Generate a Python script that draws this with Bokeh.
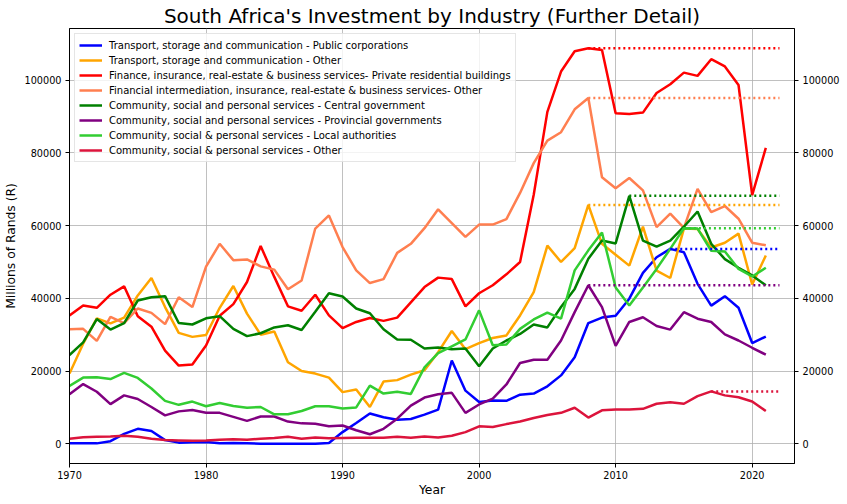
from bokeh.plotting import figure
from bokeh.models import (LinearAxis, Range1d, FixedTicker, Legend, LegendItem,
                          BasicTickFormatter)
from bokeh.embed import file_html
from bokeh.resources import INLINE

years = list(range(1970, 2022))

labels = [
    "Transport, storage and communication - Public corporations",
    "Transport, storage and communication - Other",
    "Finance, insurance, real-estate & business services- Private residential buildings",
    "Financial intermediation, insurance, real-estate & business services- Other",
    "Community, social and personal services - Central government",
    "Community, social and personal services - Provincial governments",
    "Community, social & personal services - Local authorities",
    "Community, social & personal services - Other",
]
colors = ["blue", "orange", "red", "coral", "green", "purple", "limegreen", "crimson"]

transport_public = [
    100, 100, 100, 700, 2700, 4100, 3500, 1000, 300, 400,
    500, 100, 200, 100, 0, 0, 0, 0, 0, 200,
    3200, 5700, 8300, 7300, 6600, 6800, 8000, 9400, 22900, 14600,
    11500, 11900, 11800, 13500, 13800, 15800, 18800, 23800, 33200, 34700,
    35200, 39900, 47000, 51300, 53600, 52700, 44000, 38000, 40600, 37400,
    27700, 29500]
transport_other = [
    19300, 27500, 34500, 33100, 34700, 40800, 45600, 37600, 30500, 29400,
    29900, 37400, 43400, 35800, 30000, 30900, 22400, 20000, 19300, 18200,
    14200, 14900, 10100, 17100, 17500, 19000, 20200, 25200, 31000, 26000,
    27700, 29100, 29800, 35300, 41700, 54500, 50000, 53800, 65700, 55000,
    52000, 49000, 59700, 47600, 45600, 59200, 59100, 54000, 55300, 57800,
    43800, 51800]
finance_private_res = [
    35300, 38000, 37400, 41000, 43300, 35100, 32200, 25600, 21500, 21800,
    27000, 35200, 38400, 44500, 54400, 45900, 37800, 36600, 41000, 35300,
    31800, 33500, 34600, 33800, 34700, 38900, 43100, 45700, 45300, 37800,
    41400, 43600, 46600, 50000, 68500, 91300, 102400, 108000, 108800, 108300,
    90900, 90700, 91100, 96500, 98900, 102100, 101200, 105800, 103800, 98700,
    68400, 81400]
finance_other = [
    31500, 31600, 28300, 34900, 33200, 37200, 36000, 32900, 40300, 37600,
    48700, 55000, 50500, 50700, 48800, 47900, 42500, 44900, 59200, 62800,
    54100, 47700, 44200, 45300, 52500, 55000, 59300, 64500, 60700, 56900,
    60300, 60300, 61800, 69000, 77200, 83400, 85700, 92000, 95100, 73300,
    70300, 73100, 69700, 59600, 63300, 59400, 70100, 63700, 65400, 61900,
    55300, 54600]
central_gov = [
    24400, 27900, 34300, 31400, 33200, 39400, 40300, 40600, 33200, 32800,
    34500, 35100, 31600, 29600, 30400, 32000, 32600, 31300, 36300, 41400,
    40500, 37200, 35900, 31500, 28700, 28600, 26200, 26500, 26000, 26200,
    21300, 26200, 28400, 30200, 32800, 32000, 37600, 42600, 50900, 55900,
    55100, 68200, 55900, 54200, 55900, 59700, 63900, 55000, 50800, 48400,
    46300, 43600]
provincial_gov = [
    13600, 16400, 14300, 10900, 13300, 12300, 10100, 7800, 8900, 9300,
    8500, 8500, 7400, 6300, 7500, 7500, 6100, 5600, 5500, 4800,
    5000, 3700, 2600, 4100, 6900, 10500, 12700, 13600, 14000, 8500,
    10800, 12400, 16300, 22200, 23100, 23100, 28400, 36200, 43600, 37600,
    26900, 33500, 34800, 32400, 31400, 36200, 34400, 33500, 30100, 28400,
    26400, 24500]
local_auth = [
    15900, 18200, 18300, 17800, 19500, 18100, 15200, 11800, 10700, 11600,
    10300, 11200, 10400, 9900, 10100, 8100, 8100, 9000, 10300, 10300,
    9700, 10000, 16000, 13800, 14300, 13700, 21000, 24900, 26800, 28700,
    36700, 27100, 27300, 31600, 34200, 36100, 34400, 47700, 53200, 58100,
    43000, 38000, 43000, 48100, 53600, 59300, 59200, 53100, 52900, 48100,
    46000, 48400]
community_other = [
    1400, 1750, 1900, 2000, 2200, 1900, 1400, 1000, 900, 800,
    900, 1100, 1200, 1100, 1400, 1600, 1900, 1400, 1700, 1500,
    1600, 1650, 1650, 1650, 1900, 1650, 2000, 1700, 2200, 3200,
    4800, 4600, 5400, 6100, 7100, 7900, 8500, 9900, 7200, 9200,
    9400, 9400, 9600, 11000, 11400, 11000, 13100, 14400, 13300, 12800,
    11600, 9000]

series = [transport_public, transport_other, finance_private_res, finance_other,
          central_gov, provincial_gov, local_auth, community_other]
peak_line_end = 2022
x_ticks = [1970, 1980, 1990, 2000, 2010, 2020]
y_ticks = [0, 20000, 40000, 60000, 80000, 100000]

all_vals = [v for s in series for v in s]
lo, hi = min(all_vals), max(all_vals)
pad = 0.05 * (hi - lo)

FONT = "DejaVu Sans"
p = figure(frame_width=725, frame_height=435,
           min_border_left=62, min_border_right=44, min_border_top=26, min_border_bottom=29,
           x_range=Range1d(1970, 2023.1), y_range=Range1d(lo - pad, hi + pad),
           output_backend="svg", toolbar_location=None,
           title="South Africa's Investment by Industry (Further Detail)")
p.title.text_font = FONT
p.title.text_font_size = "20px"
p.title.text_font_style = "normal"
p.title.align = "center"
p.title.text_color = "black"
p.title.standoff = 2
p.title.offset = 0
p.background_fill_color = "white"
p.border_fill_color = "white"
p.outline_line_color = "black"
p.outline_line_width = 1
p.outline_line_alpha = 1

for g in (p.xgrid, p.ygrid):
    g.grid_line_color = "#b0b0b0"
    g.grid_line_width = 0.8

p.xaxis.ticker = FixedTicker(ticks=x_ticks)
p.yaxis.ticker = FixedTicker(ticks=y_ticks)
p.yaxis.formatter = BasicTickFormatter(use_scientific=False)
p.xaxis.axis_label = "Year"
p.yaxis.axis_label = "Millions of Rands (R)"

right_axis = LinearAxis(ticker=FixedTicker(ticks=y_ticks),
                        formatter=BasicTickFormatter(use_scientific=False))
p.add_layout(right_axis, "right")

for ax in list(p.xaxis) + list(p.yaxis):
    ax.axis_line_color = "black"
    ax.major_tick_line_color = "black"
    ax.major_tick_out = 4
    ax.major_tick_in = 0
    ax.minor_tick_line_color = None
    ax.major_label_text_font = FONT
    ax.major_label_text_font_size = "9.7px"
    ax.major_label_text_color = "black"
    ax.major_label_standoff = 4
    ax.axis_label_text_font = FONT
    ax.axis_label_text_font_size = "12.3px"
    ax.axis_label_text_font_style = "normal"
    ax.axis_label_text_color = "black"
    ax.axis_label_standoff = 4

p.xaxis.major_label_standoff = 3
p.xaxis.axis_label_standoff = 1

items = []
for lab, col, vals in zip(labels, colors, series):
    r = p.line(years, vals, line_color=col, line_width=2.5)
    items.append(LegendItem(label=lab, renderers=[r]))

for col, vals in zip(colors, series):
    m = max(vals)
    i = vals.index(m)
    p.line([years[i], peak_line_end], [m, m], line_color=col, line_width=2.5,
           line_dash="2 3")

legend = Legend(items=items, location="top_left")
legend.label_text_font = FONT
legend.label_text_font_size = "10px"
legend.label_text_color = "black"
legend.glyph_width = 23
legend.glyph_height = 14
legend.label_height = 14
legend.label_standoff = 7
legend.spacing = 1
legend.padding = 4
legend.margin = 5
legend.border_line_color = "#cccccc"
legend.border_line_width = 1
legend.background_fill_alpha = 0.8
p.add_layout(legend)

open("out.html", "w").write(file_html(p, INLINE))
